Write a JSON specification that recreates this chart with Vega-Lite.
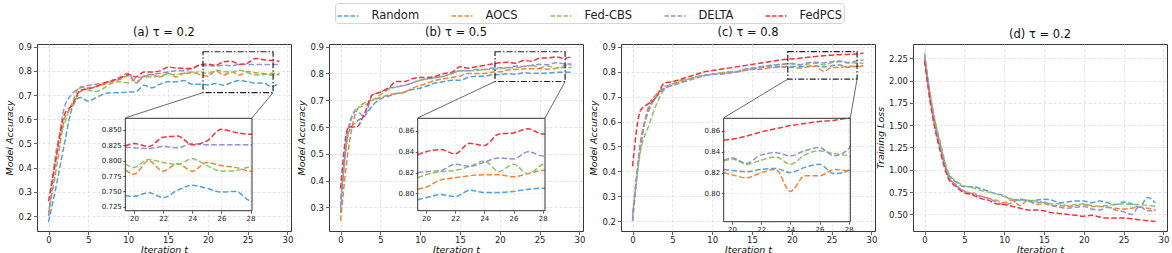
{
"$schema":"https://vega.github.io/schema/vega-lite/v6.json",
"padding":{"left":4,"top":2,"right":0,"bottom":0},
"background":"white",
"config":{"font":"DejaVu Sans","view":{"stroke":"#3a3a3a","strokeWidth":1},
"title":{"font":"DejaVu Sans","fontSize":11.5,"fontWeight":"normal","color":"#111","offset":4},
"axis":{"labelFont":"DejaVu Sans","labelFontSize":8.5,"labelColor":"#222","titleFont":"DejaVu Sans","titleFontSize":9.5,"titleFontStyle":"italic","titleFontWeight":"normal","titleColor":"#111","tickColor":"#333","tickSize":3.5,"tickWidth":0.8,"domain":false,"gridColor":"#dedede","gridDash":[3,2],"gridWidth":0.8,"labelFlush":false,"labelOverlap":false,"labelPadding":2,"titlePadding":3}},
"datasets":{
"a":[
{"t":0,"Random":0.175,"AOCS":0.21,"Fed-CBS":0.20,"DELTA":0.20,"FedPCS":0.26},
{"t":1,"Random":0.33,"AOCS":0.40,"Fed-CBS":0.48,"DELTA":0.45,"FedPCS":0.45},
{"t":2,"Random":0.50,"AOCS":0.60,"Fed-CBS":0.58,"DELTA":0.65,"FedPCS":0.62},
{"t":3,"Random":0.65,"AOCS":0.655,"Fed-CBS":0.67,"DELTA":0.705,"FedPCS":0.66},
{"t":4,"Random":0.69,"AOCS":0.715,"Fed-CBS":0.735,"DELTA":0.73,"FedPCS":0.72},
{"t":5,"Random":0.675,"AOCS":0.73,"Fed-CBS":0.72,"DELTA":0.74,"FedPCS":0.725},
{"t":6,"Random":0.69,"AOCS":0.735,"Fed-CBS":0.715,"DELTA":0.745,"FedPCS":0.735},
{"t":7,"Random":0.705,"AOCS":0.745,"Fed-CBS":0.73,"DELTA":0.75,"FedPCS":0.75},
{"t":8,"Random":0.71,"AOCS":0.755,"Fed-CBS":0.75,"DELTA":0.76,"FedPCS":0.76},
{"t":9,"Random":0.71,"AOCS":0.765,"Fed-CBS":0.755,"DELTA":0.775,"FedPCS":0.77},
{"t":10,"Random":0.712,"AOCS":0.78,"Fed-CBS":0.75,"DELTA":0.79,"FedPCS":0.785},
{"t":11,"Random":0.715,"AOCS":0.755,"Fed-CBS":0.77,"DELTA":0.75,"FedPCS":0.775},
{"t":12,"Random":0.74,"AOCS":0.775,"Fed-CBS":0.775,"DELTA":0.78,"FedPCS":0.795},
{"t":13,"Random":0.73,"AOCS":0.785,"Fed-CBS":0.775,"DELTA":0.785,"FedPCS":0.795},
{"t":14,"Random":0.745,"AOCS":0.775,"Fed-CBS":0.78,"DELTA":0.79,"FedPCS":0.80},
{"t":15,"Random":0.755,"AOCS":0.79,"Fed-CBS":0.785,"DELTA":0.795,"FedPCS":0.815},
{"t":16,"Random":0.755,"AOCS":0.775,"Fed-CBS":0.785,"DELTA":0.80,"FedPCS":0.812},
{"t":17,"Random":0.76,"AOCS":0.79,"Fed-CBS":0.79,"DELTA":0.80,"FedPCS":0.81},
{"t":18,"Random":0.745,"AOCS":0.795,"Fed-CBS":0.79,"DELTA":0.81,"FedPCS":0.81},
{"t":19,"Random":0.745,"AOCS":0.785,"Fed-CBS":0.797,"DELTA":0.822,"FedPCS":0.825},
{"t":20,"Random":0.742,"AOCS":0.778,"Fed-CBS":0.789,"DELTA":0.821,"FedPCS":0.828},
{"t":21,"Random":0.748,"AOCS":0.800,"Fed-CBS":0.802,"DELTA":0.820,"FedPCS":0.823},
{"t":22,"Random":0.740,"AOCS":0.783,"Fed-CBS":0.797,"DELTA":0.823,"FedPCS":0.838},
{"t":23,"Random":0.752,"AOCS":0.795,"Fed-CBS":0.794,"DELTA":0.821,"FedPCS":0.840},
{"t":24,"Random":0.760,"AOCS":0.783,"Fed-CBS":0.803,"DELTA":0.828,"FedPCS":0.826},
{"t":25,"Random":0.755,"AOCS":0.797,"Fed-CBS":0.792,"DELTA":0.826,"FedPCS":0.832},
{"t":26,"Random":0.749,"AOCS":0.792,"Fed-CBS":0.783,"DELTA":0.826,"FedPCS":0.851},
{"t":27,"Random":0.750,"AOCS":0.789,"Fed-CBS":0.784,"DELTA":0.826,"FedPCS":0.846},
{"t":28,"Random":0.735,"AOCS":0.783,"Fed-CBS":0.790,"DELTA":0.826,"FedPCS":0.843},
{"t":29,"Random":0.750,"AOCS":0.785,"Fed-CBS":0.790,"DELTA":0.826,"FedPCS":0.840}],
"a_in":[
{"t":19.4,"Random":0.743,"AOCS":0.785,"Fed-CBS":0.795,"DELTA":0.822,"FedPCS":0.824},
{"t":20,"Random":0.742,"AOCS":0.778,"Fed-CBS":0.789,"DELTA":0.821,"FedPCS":0.828},
{"t":21,"Random":0.748,"AOCS":0.800,"Fed-CBS":0.802,"DELTA":0.820,"FedPCS":0.823},
{"t":22,"Random":0.740,"AOCS":0.783,"Fed-CBS":0.797,"DELTA":0.823,"FedPCS":0.838},
{"t":23,"Random":0.752,"AOCS":0.795,"Fed-CBS":0.794,"DELTA":0.821,"FedPCS":0.840},
{"t":24,"Random":0.760,"AOCS":0.783,"Fed-CBS":0.803,"DELTA":0.828,"FedPCS":0.826},
{"t":25,"Random":0.755,"AOCS":0.797,"Fed-CBS":0.792,"DELTA":0.826,"FedPCS":0.832},
{"t":26,"Random":0.749,"AOCS":0.792,"Fed-CBS":0.783,"DELTA":0.826,"FedPCS":0.851},
{"t":27,"Random":0.750,"AOCS":0.789,"Fed-CBS":0.784,"DELTA":0.826,"FedPCS":0.846},
{"t":28,"Random":0.735,"AOCS":0.783,"Fed-CBS":0.790,"DELTA":0.826,"FedPCS":0.843},
{"t":28.1,"Random":0.735,"AOCS":0.783,"Fed-CBS":0.790,"DELTA":0.826,"FedPCS":0.843}],
"b":[
{"t":0,"Random":0.28,"AOCS":0.25,"Fed-CBS":0.33,"DELTA":0.30,"FedPCS":0.37},
{"t":1,"Random":0.58,"AOCS":0.52,"Fed-CBS":0.58,"DELTA":0.60,"FedPCS":0.60},
{"t":2,"Random":0.62,"AOCS":0.66,"Fed-CBS":0.67,"DELTA":0.66,"FedPCS":0.60},
{"t":3,"Random":0.64,"AOCS":0.69,"Fed-CBS":0.68,"DELTA":0.64,"FedPCS":0.65},
{"t":4,"Random":0.68,"AOCS":0.70,"Fed-CBS":0.70,"DELTA":0.72,"FedPCS":0.72},
{"t":5,"Random":0.705,"AOCS":0.71,"Fed-CBS":0.72,"DELTA":0.73,"FedPCS":0.73},
{"t":6,"Random":0.715,"AOCS":0.72,"Fed-CBS":0.74,"DELTA":0.745,"FedPCS":0.745},
{"t":7,"Random":0.725,"AOCS":0.725,"Fed-CBS":0.75,"DELTA":0.75,"FedPCS":0.77},
{"t":8,"Random":0.73,"AOCS":0.73,"Fed-CBS":0.755,"DELTA":0.755,"FedPCS":0.77},
{"t":9,"Random":0.74,"AOCS":0.745,"Fed-CBS":0.765,"DELTA":0.765,"FedPCS":0.78},
{"t":10,"Random":0.745,"AOCS":0.755,"Fed-CBS":0.775,"DELTA":0.775,"FedPCS":0.785},
{"t":11,"Random":0.755,"AOCS":0.765,"Fed-CBS":0.78,"DELTA":0.78,"FedPCS":0.785},
{"t":12,"Random":0.765,"AOCS":0.775,"Fed-CBS":0.785,"DELTA":0.785,"FedPCS":0.79},
{"t":13,"Random":0.77,"AOCS":0.78,"Fed-CBS":0.79,"DELTA":0.79,"FedPCS":0.80},
{"t":14,"Random":0.775,"AOCS":0.785,"Fed-CBS":0.80,"DELTA":0.80,"FedPCS":0.805},
{"t":15,"Random":0.775,"AOCS":0.79,"Fed-CBS":0.81,"DELTA":0.81,"FedPCS":0.825},
{"t":16,"Random":0.785,"AOCS":0.80,"Fed-CBS":0.81,"DELTA":0.81,"FedPCS":0.82},
{"t":17,"Random":0.79,"AOCS":0.80,"Fed-CBS":0.81,"DELTA":0.815,"FedPCS":0.825},
{"t":18,"Random":0.79,"AOCS":0.80,"Fed-CBS":0.815,"DELTA":0.815,"FedPCS":0.83},
{"t":19,"Random":0.795,"AOCS":0.805,"Fed-CBS":0.815,"DELTA":0.82,"FedPCS":0.835},
{"t":20,"Random":0.796,"AOCS":0.806,"Fed-CBS":0.818,"DELTA":0.821,"FedPCS":0.840},
{"t":21,"Random":0.799,"AOCS":0.813,"Fed-CBS":0.821,"DELTA":0.822,"FedPCS":0.842},
{"t":22,"Random":0.797,"AOCS":0.815,"Fed-CBS":0.822,"DELTA":0.828,"FedPCS":0.838},
{"t":23,"Random":0.803,"AOCS":0.817,"Fed-CBS":0.826,"DELTA":0.826,"FedPCS":0.848},
{"t":24,"Random":0.801,"AOCS":0.818,"Fed-CBS":0.831,"DELTA":0.830,"FedPCS":0.846},
{"t":25,"Random":0.801,"AOCS":0.818,"Fed-CBS":0.821,"DELTA":0.834,"FedPCS":0.857},
{"t":26,"Random":0.802,"AOCS":0.816,"Fed-CBS":0.828,"DELTA":0.833,"FedPCS":0.858},
{"t":27,"Random":0.804,"AOCS":0.819,"Fed-CBS":0.819,"DELTA":0.840,"FedPCS":0.862},
{"t":28,"Random":0.805,"AOCS":0.822,"Fed-CBS":0.828,"DELTA":0.836,"FedPCS":0.857},
{"t":29,"Random":0.805,"AOCS":0.822,"Fed-CBS":0.832,"DELTA":0.835,"FedPCS":0.862}],
"b_in":[
{"t":19.43,"Random":0.794,"AOCS":0.804,"Fed-CBS":0.815,"DELTA":0.820,"FedPCS":0.837},
{"t":20,"Random":0.796,"AOCS":0.806,"Fed-CBS":0.818,"DELTA":0.821,"FedPCS":0.840},
{"t":21,"Random":0.799,"AOCS":0.813,"Fed-CBS":0.821,"DELTA":0.822,"FedPCS":0.842},
{"t":22,"Random":0.797,"AOCS":0.815,"Fed-CBS":0.822,"DELTA":0.828,"FedPCS":0.838},
{"t":23,"Random":0.803,"AOCS":0.817,"Fed-CBS":0.826,"DELTA":0.826,"FedPCS":0.848},
{"t":24,"Random":0.801,"AOCS":0.818,"Fed-CBS":0.831,"DELTA":0.830,"FedPCS":0.846},
{"t":25,"Random":0.801,"AOCS":0.818,"Fed-CBS":0.821,"DELTA":0.834,"FedPCS":0.857},
{"t":26,"Random":0.802,"AOCS":0.816,"Fed-CBS":0.828,"DELTA":0.833,"FedPCS":0.858},
{"t":27,"Random":0.804,"AOCS":0.819,"Fed-CBS":0.819,"DELTA":0.840,"FedPCS":0.862},
{"t":28,"Random":0.805,"AOCS":0.822,"Fed-CBS":0.828,"DELTA":0.836,"FedPCS":0.857},
{"t":28.16,"Random":0.805,"AOCS":0.822,"Fed-CBS":0.829,"DELTA":0.836,"FedPCS":0.857}],
"c":[
{"t":0,"Random":0.20,"AOCS":0.23,"Fed-CBS":0.22,"DELTA":0.20,"FedPCS":0.42},
{"t":1,"Random":0.50,"AOCS":0.50,"Fed-CBS":0.48,"DELTA":0.52,"FedPCS":0.645},
{"t":2,"Random":0.65,"AOCS":0.66,"Fed-CBS":0.58,"DELTA":0.64,"FedPCS":0.672},
{"t":3,"Random":0.70,"AOCS":0.71,"Fed-CBS":0.67,"DELTA":0.70,"FedPCS":0.70},
{"t":4,"Random":0.73,"AOCS":0.74,"Fed-CBS":0.73,"DELTA":0.735,"FedPCS":0.755},
{"t":5,"Random":0.75,"AOCS":0.75,"Fed-CBS":0.75,"DELTA":0.745,"FedPCS":0.76},
{"t":6,"Random":0.76,"AOCS":0.765,"Fed-CBS":0.76,"DELTA":0.755,"FedPCS":0.77},
{"t":7,"Random":0.77,"AOCS":0.77,"Fed-CBS":0.77,"DELTA":0.765,"FedPCS":0.78},
{"t":8,"Random":0.78,"AOCS":0.78,"Fed-CBS":0.78,"DELTA":0.775,"FedPCS":0.79},
{"t":9,"Random":0.785,"AOCS":0.785,"Fed-CBS":0.785,"DELTA":0.785,"FedPCS":0.80},
{"t":10,"Random":0.79,"AOCS":0.79,"Fed-CBS":0.79,"DELTA":0.79,"FedPCS":0.805},
{"t":11,"Random":0.79,"AOCS":0.795,"Fed-CBS":0.795,"DELTA":0.79,"FedPCS":0.81},
{"t":12,"Random":0.80,"AOCS":0.795,"Fed-CBS":0.80,"DELTA":0.795,"FedPCS":0.815},
{"t":13,"Random":0.80,"AOCS":0.80,"Fed-CBS":0.80,"DELTA":0.80,"FedPCS":0.82},
{"t":14,"Random":0.805,"AOCS":0.805,"Fed-CBS":0.81,"DELTA":0.81,"FedPCS":0.825},
{"t":15,"Random":0.81,"AOCS":0.81,"Fed-CBS":0.815,"DELTA":0.815,"FedPCS":0.83},
{"t":16,"Random":0.815,"AOCS":0.81,"Fed-CBS":0.82,"DELTA":0.82,"FedPCS":0.835},
{"t":17,"Random":0.82,"AOCS":0.815,"Fed-CBS":0.825,"DELTA":0.825,"FedPCS":0.84},
{"t":18,"Random":0.82,"AOCS":0.818,"Fed-CBS":0.828,"DELTA":0.828,"FedPCS":0.845},
{"t":19,"Random":0.822,"AOCS":0.82,"Fed-CBS":0.831,"DELTA":0.831,"FedPCS":0.85},
{"t":20,"Random":0.822,"AOCS":0.818,"Fed-CBS":0.833,"DELTA":0.834,"FedPCS":0.852},
{"t":21,"Random":0.821,"AOCS":0.815,"Fed-CBS":0.828,"DELTA":0.829,"FedPCS":0.855},
{"t":22,"Random":0.823,"AOCS":0.820,"Fed-CBS":0.832,"DELTA":0.837,"FedPCS":0.859},
{"t":23,"Random":0.824,"AOCS":0.823,"Fed-CBS":0.835,"DELTA":0.839,"FedPCS":0.862},
{"t":24,"Random":0.820,"AOCS":0.802,"Fed-CBS":0.828,"DELTA":0.836,"FedPCS":0.865},
{"t":25,"Random":0.825,"AOCS":0.817,"Fed-CBS":0.837,"DELTA":0.841,"FedPCS":0.867},
{"t":26,"Random":0.828,"AOCS":0.817,"Fed-CBS":0.841,"DELTA":0.844,"FedPCS":0.869},
{"t":27,"Random":0.819,"AOCS":0.823,"Fed-CBS":0.838,"DELTA":0.836,"FedPCS":0.870},
{"t":28,"Random":0.822,"AOCS":0.822,"Fed-CBS":0.836,"DELTA":0.843,"FedPCS":0.872},
{"t":29,"Random":0.825,"AOCS":0.822,"Fed-CBS":0.835,"DELTA":0.848,"FedPCS":0.875}],
"c_in":[
{"t":19.43,"Random":0.823,"AOCS":0.820,"Fed-CBS":0.831,"DELTA":0.832,"FedPCS":0.851},
{"t":20,"Random":0.822,"AOCS":0.818,"Fed-CBS":0.833,"DELTA":0.834,"FedPCS":0.852},
{"t":21,"Random":0.821,"AOCS":0.815,"Fed-CBS":0.828,"DELTA":0.829,"FedPCS":0.855},
{"t":22,"Random":0.823,"AOCS":0.820,"Fed-CBS":0.832,"DELTA":0.837,"FedPCS":0.859},
{"t":23,"Random":0.824,"AOCS":0.823,"Fed-CBS":0.835,"DELTA":0.839,"FedPCS":0.862},
{"t":24,"Random":0.820,"AOCS":0.802,"Fed-CBS":0.828,"DELTA":0.836,"FedPCS":0.865},
{"t":25,"Random":0.825,"AOCS":0.817,"Fed-CBS":0.837,"DELTA":0.841,"FedPCS":0.867},
{"t":26,"Random":0.828,"AOCS":0.817,"Fed-CBS":0.841,"DELTA":0.844,"FedPCS":0.869},
{"t":27,"Random":0.819,"AOCS":0.823,"Fed-CBS":0.838,"DELTA":0.836,"FedPCS":0.870},
{"t":28,"Random":0.822,"AOCS":0.822,"Fed-CBS":0.836,"DELTA":0.843,"FedPCS":0.872},
{"t":28.11,"Random":0.823,"AOCS":0.822,"Fed-CBS":0.835,"DELTA":0.846,"FedPCS":0.872}],
"d":[
{"t":0,"Random":2.25,"AOCS":2.24,"Fed-CBS":2.31,"DELTA":2.28,"FedPCS":2.22},
{"t":1,"Random":1.68,"AOCS":1.62,"Fed-CBS":1.70,"DELTA":1.66,"FedPCS":1.60},
{"t":2,"Random":1.27,"AOCS":1.22,"Fed-CBS":1.30,"DELTA":1.25,"FedPCS":1.20},
{"t":3,"Random":0.95,"AOCS":0.92,"Fed-CBS":0.97,"DELTA":0.93,"FedPCS":0.90},
{"t":4,"Random":0.86,"AOCS":0.83,"Fed-CBS":0.87,"DELTA":0.82,"FedPCS":0.81},
{"t":5,"Random":0.81,"AOCS":0.75,"Fed-CBS":0.82,"DELTA":0.76,"FedPCS":0.74},
{"t":6,"Random":0.81,"AOCS":0.74,"Fed-CBS":0.80,"DELTA":0.73,"FedPCS":0.72},
{"t":7,"Random":0.79,"AOCS":0.71,"Fed-CBS":0.77,"DELTA":0.70,"FedPCS":0.68},
{"t":8,"Random":0.76,"AOCS":0.68,"Fed-CBS":0.75,"DELTA":0.68,"FedPCS":0.66},
{"t":9,"Random":0.73,"AOCS":0.66,"Fed-CBS":0.73,"DELTA":0.64,"FedPCS":0.62},
{"t":10,"Random":0.71,"AOCS":0.63,"Fed-CBS":0.70,"DELTA":0.61,"FedPCS":0.61},
{"t":11,"Random":0.66,"AOCS":0.66,"Fed-CBS":0.67,"DELTA":0.63,"FedPCS":0.59},
{"t":12,"Random":0.67,"AOCS":0.60,"Fed-CBS":0.66,"DELTA":0.67,"FedPCS":0.57},
{"t":13,"Random":0.65,"AOCS":0.66,"Fed-CBS":0.66,"DELTA":0.65,"FedPCS":0.55},
{"t":14,"Random":0.66,"AOCS":0.61,"Fed-CBS":0.65,"DELTA":0.63,"FedPCS":0.55},
{"t":15,"Random":0.67,"AOCS":0.62,"Fed-CBS":0.63,"DELTA":0.64,"FedPCS":0.54},
{"t":16,"Random":0.66,"AOCS":0.60,"Fed-CBS":0.62,"DELTA":0.60,"FedPCS":0.52},
{"t":17,"Random":0.63,"AOCS":0.60,"Fed-CBS":0.62,"DELTA":0.58,"FedPCS":0.51},
{"t":18,"Random":0.64,"AOCS":0.59,"Fed-CBS":0.60,"DELTA":0.57,"FedPCS":0.50},
{"t":19,"Random":0.65,"AOCS":0.60,"Fed-CBS":0.61,"DELTA":0.58,"FedPCS":0.49},
{"t":20,"Random":0.65,"AOCS":0.61,"Fed-CBS":0.62,"DELTA":0.59,"FedPCS":0.48},
{"t":21,"Random":0.63,"AOCS":0.59,"Fed-CBS":0.60,"DELTA":0.56,"FedPCS":0.49},
{"t":22,"Random":0.65,"AOCS":0.59,"Fed-CBS":0.59,"DELTA":0.55,"FedPCS":0.47},
{"t":23,"Random":0.63,"AOCS":0.58,"Fed-CBS":0.60,"DELTA":0.58,"FedPCS":0.46},
{"t":24,"Random":0.61,"AOCS":0.57,"Fed-CBS":0.61,"DELTA":0.55,"FedPCS":0.46},
{"t":25,"Random":0.64,"AOCS":0.56,"Fed-CBS":0.62,"DELTA":0.53,"FedPCS":0.46},
{"t":26,"Random":0.62,"AOCS":0.57,"Fed-CBS":0.61,"DELTA":0.50,"FedPCS":0.45},
{"t":27,"Random":0.58,"AOCS":0.58,"Fed-CBS":0.61,"DELTA":0.59,"FedPCS":0.44},
{"t":28,"Random":0.69,"AOCS":0.57,"Fed-CBS":0.60,"DELTA":0.54,"FedPCS":0.43},
{"t":29,"Random":0.63,"AOCS":0.55,"Fed-CBS":0.59,"DELTA":0.54,"FedPCS":0.42}]
},
"hconcat":[
{"width":254,"height":187,"title":"(a) τ = 0.2",
"layer":[
{"layer":[
{"data":{"name":"a"},"transform":[{"fold":["Random","AOCS","Fed-CBS","DELTA","FedPCS"],"as":["s","v"]}],
"mark":{"type":"line","strokeDash":[5.5,2.4],"strokeWidth":1.5,"interpolate":"monotone"},
"encoding":{
"x":{"field":"t","type":"quantitative","scale":{"domain":[-1.45,30.45],"nice":false,"zero":false},"axis":{"values":[0,5,10,15,20,25,30],"format":"d","title":"Iteration t","labelPadding":1,"titleBaseline":"alphabetic","titleY":21.5}},
"y":{"field":"v","type":"quantitative","scale":{"domain":[0.138,0.911],"nice":false,"zero":false},"axis":{"values":[0.2,0.3,0.4,0.5,0.6,0.7,0.8,0.9],"format":".1f","title":"Model Accuracy"}},
"color":{"field":"s","type":"nominal","scale":{"domain":["Random","AOCS","Fed-CBS","DELTA","FedPCS"],"range":["#559fd9","#f58535","#8dc466","#9392d6","#f5333f"]},
"legend":{"title":null,"orient":"none","legendX":298,"legendY":-41,"direction":"horizontal","symbolType":"stroke","symbolSize":441,"symbolStrokeWidth":1.5,"symbolDash":[4.5,2],"labelFont":"DejaVu Sans","labelFontSize":11.5,"labelColor":"#222","strokeColor":"#d5d5d5","cornerRadius":3,"padding":1.5,"fillColor":"white","columnPadding":29,"labelOffset":12}}}},
{"data":{"values":[{}]},"mark":{"type":"rect","fill":"white","fillOpacity":0,"stroke":"#222","strokeWidth":1.2,"strokeDash":[6,2,1.5,2]},
"encoding":{"x":{"datum":19.4,"axis":{"values":[0,5,10,15,20,25,30],"format":"d","title":"Iteration t","labelPadding":1,"titleBaseline":"alphabetic","titleY":21.5}},"x2":{"datum":28.2},"y":{"datum":0.71,"axis":{"values":[0.2,0.3,0.4,0.5,0.6,0.7,0.8,0.9],"format":".1f","title":"Model Accuracy"}},"y2":{"datum":0.879}}},
{"data":{"values":[{}]},"mark":{"type":"rule","color":"#444","strokeWidth":0.8},"encoding":{"x":{"datum":19.4,"axis":{"values":[0,5,10,15,20,25,30],"format":"d","title":"Iteration t","labelPadding":1,"titleBaseline":"alphabetic","titleY":21.5}},"x2":{"datum":9.64},"y":{"datum":0.71,"axis":{"values":[0.2,0.3,0.4,0.5,0.6,0.7,0.8,0.9],"format":".1f","title":"Model Accuracy"}},"y2":{"datum":0.6055}}},
{"data":{"values":[{}]},"mark":{"type":"rule","color":"#444","strokeWidth":0.8},"encoding":{"x":{"datum":28.2,"axis":{"values":[0,5,10,15,20,25,30],"format":"d","title":"Iteration t","labelPadding":1,"titleBaseline":"alphabetic","titleY":21.5}},"x2":{"datum":25.55},"y":{"datum":0.71,"axis":{"values":[0.2,0.3,0.4,0.5,0.6,0.7,0.8,0.9],"format":".1f","title":"Model Accuracy"}},"y2":{"datum":0.6055}}}
]},
{"layer":[
{"data":{"values":[{}]},"mark":{"type":"rect","fill":"white","strokeWidth":0},
"encoding":{
"x":{"datum":19.4,"type":"quantitative","scale":{"domain":[19.4,28.1],"range":[88.3,215],"nice":false,"zero":false},"axis":{"orient":"bottom","offset":-20.3,"values":[20,22,24,26,28],"format":"d","title":null,"grid":false,"labelFontSize":7,"tickSize":2.5,"labelPadding":1.5,"zindex":1}},
"x2":{"datum":28.1},
"y":{"datum":0.7186,"type":"quantitative","scale":{"domain":[0.7186,0.869],"range":[166.7,74.3],"nice":false,"zero":false},"axis":{"orient":"left","offset":-88.3,"values":[0.725,0.75,0.775,0.8,0.825,0.85],"format":".3f","title":null,"grid":false,"labelFontSize":7,"tickSize":2.5,"labelPadding":1.5,"zindex":1}},
"y2":{"datum":0.869}}},
{"data":{"values":[{"g":20},{"g":22},{"g":24},{"g":26},{"g":28}]},"mark":{"type":"rule","color":"#dcdcdc","strokeDash":[2,2],"strokeWidth":0.7},"encoding":{
"x":{"field":"g","type":"quantitative","axis":{"orient":"bottom","offset":-20.3,"values":[20,22,24,26,28],"format":"d","title":null,"grid":false,"labelFontSize":7,"tickSize":2.5,"labelPadding":1.5,"zindex":1}},
"y":{"datum":0.7186,"axis":{"orient":"left","offset":-88.3,"values":[0.725,0.75,0.775,0.8,0.825,0.85],"format":".3f","title":null,"grid":false,"labelFontSize":7,"tickSize":2.5,"labelPadding":1.5,"zindex":1}},"y2":{"datum":0.869}}},
{"data":{"values":[{"h":0.725},{"h":0.75},{"h":0.775},{"h":0.8},{"h":0.825},{"h":0.85}]},"mark":{"type":"rule","color":"#dcdcdc","strokeDash":[2,2],"strokeWidth":0.7},"encoding":{
"y":{"field":"h","type":"quantitative","axis":{"orient":"left","offset":-88.3,"values":[0.725,0.75,0.775,0.8,0.825,0.85],"format":".3f","title":null,"grid":false,"labelFontSize":7,"tickSize":2.5,"labelPadding":1.5,"zindex":1}},
"x":{"datum":19.4,"axis":{"orient":"bottom","offset":-20.3,"values":[20,22,24,26,28],"format":"d","title":null,"grid":false,"labelFontSize":7,"tickSize":2.5,"labelPadding":1.5,"zindex":1}},"x2":{"datum":28.1}}},
{"data":{"name":"a_in"},"transform":[{"fold":["Random","AOCS","Fed-CBS","DELTA","FedPCS"],"as":["s","v"]}],
"mark":{"type":"line","strokeDash":[5.5,2.4],"strokeWidth":1.5,"interpolate":"monotone"},
"encoding":{
"x":{"field":"t","type":"quantitative","axis":{"orient":"bottom","offset":-20.3,"values":[20,22,24,26,28],"format":"d","title":null,"grid":false,"labelFontSize":7,"tickSize":2.5,"labelPadding":1.5,"zindex":1}},
"y":{"field":"v","type":"quantitative","axis":{"orient":"left","offset":-88.3,"values":[0.725,0.75,0.775,0.8,0.825,0.85],"format":".3f","title":null,"grid":false,"labelFontSize":7,"tickSize":2.5,"labelPadding":1.5,"zindex":1}},
"color":{"field":"s","type":"nominal","scale":{"domain":["Random","AOCS","Fed-CBS","DELTA","FedPCS"],"range":["#559fd9","#f58535","#8dc466","#9392d6","#f5333f"]}}}},
{"data":{"values":[{}]},"mark":{"type":"rect","fill":"white","fillOpacity":0,"stroke":"#333","strokeWidth":1},
"encoding":{
"x":{"datum":19.4,"axis":{"orient":"bottom","offset":-20.3,"values":[20,22,24,26,28],"format":"d","title":null,"grid":false,"labelFontSize":7,"tickSize":2.5,"labelPadding":1.5,"zindex":1}},"x2":{"datum":28.1},
"y":{"datum":0.7186,"axis":{"orient":"left","offset":-88.3,"values":[0.725,0.75,0.775,0.8,0.825,0.85],"format":".3f","title":null,"grid":false,"labelFontSize":7,"tickSize":2.5,"labelPadding":1.5,"zindex":1}},"y2":{"datum":0.869}}}
]}
],
"resolve":{"scale":{"x":"independent","y":"independent"}}},

{"width":254,"height":187,"title":"(b) τ = 0.5",
"layer":[
{"layer":[
{"data":{"name":"b"},"transform":[{"fold":["Random","AOCS","Fed-CBS","DELTA","FedPCS"],"as":["s","v"]}],
"mark":{"type":"line","strokeDash":[5.5,2.4],"strokeWidth":1.5,"interpolate":"monotone"},
"encoding":{
"x":{"field":"t","type":"quantitative","scale":{"domain":[-1.45,30.45],"nice":false,"zero":false},"axis":{"values":[0,5,10,15,20,25,30],"format":"d","title":"Iteration t","labelPadding":1,"titleBaseline":"alphabetic","titleY":21.5}},
"y":{"field":"v","type":"quantitative","scale":{"domain":[0.212,0.91],"nice":false,"zero":false},"axis":{"values":[0.3,0.4,0.5,0.6,0.7,0.8,0.9],"format":".1f","title":"Model Accuracy"}},
"color":{"field":"s","type":"nominal","scale":{"domain":["Random","AOCS","Fed-CBS","DELTA","FedPCS"],"range":["#559fd9","#f58535","#8dc466","#9392d6","#f5333f"]}}}},
{"data":{"values":[{}]},"mark":{"type":"rect","fill":"white","fillOpacity":0,"stroke":"#222","strokeWidth":1.2,"strokeDash":[6,2,1.5,2]},
"encoding":{"x":{"datum":19.4,"axis":{"values":[0,5,10,15,20,25,30],"format":"d","title":"Iteration t","labelPadding":1,"titleBaseline":"alphabetic","titleY":21.5}},"x2":{"datum":28.2},"y":{"datum":0.770,"axis":{"values":[0.3,0.4,0.5,0.6,0.7,0.8,0.9],"format":".1f","title":"Model Accuracy"}},"y2":{"datum":0.881}}},
{"data":{"values":[{}]},"mark":{"type":"rule","color":"#444","strokeWidth":0.8},"encoding":{"x":{"datum":19.4,"axis":{"values":[0,5,10,15,20,25,30],"format":"d","title":"Iteration t","labelPadding":1,"titleBaseline":"alphabetic","titleY":21.5}},"x2":{"datum":9.69},"y":{"datum":0.770,"axis":{"values":[0.3,0.4,0.5,0.6,0.7,0.8,0.9],"format":".1f","title":"Model Accuracy"}},"y2":{"datum":0.634}}},
{"data":{"values":[{}]},"mark":{"type":"rule","color":"#444","strokeWidth":0.8},"encoding":{"x":{"datum":28.2,"axis":{"values":[0,5,10,15,20,25,30],"format":"d","title":"Iteration t","labelPadding":1,"titleBaseline":"alphabetic","titleY":21.5}},"x2":{"datum":25.68},"y":{"datum":0.770,"axis":{"values":[0.3,0.4,0.5,0.6,0.7,0.8,0.9],"format":".1f","title":"Model Accuracy"}},"y2":{"datum":0.634}}}
]},
{"layer":[
{"data":{"values":[{}]},"mark":{"type":"rect","fill":"white","strokeWidth":0},
"encoding":{
"x":{"datum":19.43,"type":"quantitative","scale":{"domain":[19.43,28.16],"range":[88.7,216],"nice":false,"zero":false},"axis":{"orient":"bottom","offset":-20.3,"values":[20,22,24,26,28],"format":"d","title":null,"grid":false,"labelFontSize":7,"tickSize":2.5,"labelPadding":1.5,"zindex":1}},
"x2":{"datum":28.16},
"y":{"datum":0.7835,"type":"quantitative","scale":{"domain":[0.7835,0.872],"range":[166.7,74.3],"nice":false,"zero":false},"axis":{"orient":"left","offset":-88.7,"values":[0.80,0.82,0.84,0.86],"format":".2f","title":null,"grid":false,"labelFontSize":7,"tickSize":2.5,"labelPadding":1.5,"zindex":1}},
"y2":{"datum":0.872}}},
{"data":{"values":[{"g":20},{"g":22},{"g":24},{"g":26},{"g":28}]},"mark":{"type":"rule","color":"#dcdcdc","strokeDash":[2,2],"strokeWidth":0.7},"encoding":{
"x":{"field":"g","type":"quantitative","axis":{"orient":"bottom","offset":-20.3,"values":[20,22,24,26,28],"format":"d","title":null,"grid":false,"labelFontSize":7,"tickSize":2.5,"labelPadding":1.5,"zindex":1}},
"y":{"datum":0.7835,"axis":{"orient":"left","offset":-88.7,"values":[0.80,0.82,0.84,0.86],"format":".2f","title":null,"grid":false,"labelFontSize":7,"tickSize":2.5,"labelPadding":1.5,"zindex":1}},"y2":{"datum":0.872}}},
{"data":{"values":[{"h":0.80},{"h":0.82},{"h":0.84},{"h":0.86}]},"mark":{"type":"rule","color":"#dcdcdc","strokeDash":[2,2],"strokeWidth":0.7},"encoding":{
"y":{"field":"h","type":"quantitative","axis":{"orient":"left","offset":-88.7,"values":[0.80,0.82,0.84,0.86],"format":".2f","title":null,"grid":false,"labelFontSize":7,"tickSize":2.5,"labelPadding":1.5,"zindex":1}},
"x":{"datum":19.43,"axis":{"orient":"bottom","offset":-20.3,"values":[20,22,24,26,28],"format":"d","title":null,"grid":false,"labelFontSize":7,"tickSize":2.5,"labelPadding":1.5,"zindex":1}},"x2":{"datum":28.16}}},
{"data":{"name":"b_in"},"transform":[{"fold":["Random","AOCS","Fed-CBS","DELTA","FedPCS"],"as":["s","v"]}],
"mark":{"type":"line","strokeDash":[5.5,2.4],"strokeWidth":1.5,"interpolate":"monotone"},
"encoding":{
"x":{"field":"t","type":"quantitative","axis":{"orient":"bottom","offset":-20.3,"values":[20,22,24,26,28],"format":"d","title":null,"grid":false,"labelFontSize":7,"tickSize":2.5,"labelPadding":1.5,"zindex":1}},
"y":{"field":"v","type":"quantitative","axis":{"orient":"left","offset":-88.7,"values":[0.80,0.82,0.84,0.86],"format":".2f","title":null,"grid":false,"labelFontSize":7,"tickSize":2.5,"labelPadding":1.5,"zindex":1}},
"color":{"field":"s","type":"nominal","scale":{"domain":["Random","AOCS","Fed-CBS","DELTA","FedPCS"],"range":["#559fd9","#f58535","#8dc466","#9392d6","#f5333f"]}}}},
{"data":{"values":[{}]},"mark":{"type":"rect","fill":"white","fillOpacity":0,"stroke":"#333","strokeWidth":1},
"encoding":{
"x":{"datum":19.43,"axis":{"orient":"bottom","offset":-20.3,"values":[20,22,24,26,28],"format":"d","title":null,"grid":false,"labelFontSize":7,"tickSize":2.5,"labelPadding":1.5,"zindex":1}},"x2":{"datum":28.16},
"y":{"datum":0.7835,"axis":{"orient":"left","offset":-88.7,"values":[0.80,0.82,0.84,0.86],"format":".2f","title":null,"grid":false,"labelFontSize":7,"tickSize":2.5,"labelPadding":1.5,"zindex":1}},"y2":{"datum":0.872}}}
]}
],
"resolve":{"scale":{"x":"independent","y":"independent"}}},

{"width":254,"height":187,"title":"(c) τ = 0.8",
"layer":[
{"layer":[
{"data":{"name":"c"},"transform":[{"fold":["Random","AOCS","Fed-CBS","DELTA","FedPCS"],"as":["s","v"]}],
"mark":{"type":"line","strokeDash":[5.5,2.4],"strokeWidth":1.5,"interpolate":"monotone"},
"encoding":{
"x":{"field":"t","type":"quantitative","scale":{"domain":[-1.45,30.45],"nice":false,"zero":false},"axis":{"values":[0,5,10,15,20,25,30],"format":"d","title":"Iteration t","labelPadding":1,"titleBaseline":"alphabetic","titleY":21.5}},
"y":{"field":"v","type":"quantitative","scale":{"domain":[0.16,0.912],"nice":false,"zero":false},"axis":{"values":[0.2,0.3,0.4,0.5,0.6,0.7,0.8,0.9],"format":".1f","title":"Model Accuracy"}},
"color":{"field":"s","type":"nominal","scale":{"domain":["Random","AOCS","Fed-CBS","DELTA","FedPCS"],"range":["#559fd9","#f58535","#8dc466","#9392d6","#f5333f"]}}}},
{"data":{"values":[{}]},"mark":{"type":"rect","fill":"white","fillOpacity":0,"stroke":"#222","strokeWidth":1.2,"strokeDash":[6,2,1.5,2]},
"encoding":{"x":{"datum":19.5,"axis":{"values":[0,5,10,15,20,25,30],"format":"d","title":"Iteration t","labelPadding":1,"titleBaseline":"alphabetic","titleY":21.5}},"x2":{"datum":28.2},"y":{"datum":0.771,"axis":{"values":[0.2,0.3,0.4,0.5,0.6,0.7,0.8,0.9],"format":".1f","title":"Model Accuracy"}},"y2":{"datum":0.881}}},
{"data":{"values":[{}]},"mark":{"type":"rule","color":"#444","strokeWidth":0.8},"encoding":{"x":{"datum":19.5,"axis":{"values":[0,5,10,15,20,25,30],"format":"d","title":"Iteration t","labelPadding":1,"titleBaseline":"alphabetic","titleY":21.5}},"x2":{"datum":11.45},"y":{"datum":0.771,"axis":{"values":[0.2,0.3,0.4,0.5,0.6,0.7,0.8,0.9],"format":".1f","title":"Model Accuracy"}},"y2":{"datum":0.615}}},
{"data":{"values":[{}]},"mark":{"type":"rule","color":"#444","strokeWidth":0.8},"encoding":{"x":{"datum":28.2,"axis":{"values":[0,5,10,15,20,25,30],"format":"d","title":"Iteration t","labelPadding":1,"titleBaseline":"alphabetic","titleY":21.5}},"x2":{"datum":27.35},"y":{"datum":0.771,"axis":{"values":[0.2,0.3,0.4,0.5,0.6,0.7,0.8,0.9],"format":".1f","title":"Model Accuracy"}},"y2":{"datum":0.615}}}
]},
{"layer":[
{"data":{"values":[{}]},"mark":{"type":"rect","fill":"white","strokeWidth":0},
"encoding":{
"x":{"datum":19.43,"type":"quantitative","scale":{"domain":[19.43,28.11],"range":[102.7,229.3],"nice":false,"zero":false},"axis":{"orient":"bottom","offset":-9.3,"values":[20,22,24,26,28],"format":"d","title":null,"grid":false,"labelFontSize":7,"tickSize":2.5,"labelPadding":1.5,"zindex":1}},
"x2":{"datum":28.11},
"y":{"datum":0.773,"type":"quantitative","scale":{"domain":[0.773,0.872],"range":[177.7,74.3],"nice":false,"zero":false},"axis":{"orient":"left","offset":-102.7,"values":[0.80,0.82,0.84,0.86],"format":".2f","title":null,"grid":false,"labelFontSize":7,"tickSize":2.5,"labelPadding":1.5,"zindex":1}},
"y2":{"datum":0.872}}},
{"data":{"values":[{"g":20},{"g":22},{"g":24},{"g":26},{"g":28}]},"mark":{"type":"rule","color":"#dcdcdc","strokeDash":[2,2],"strokeWidth":0.7},"encoding":{
"x":{"field":"g","type":"quantitative","axis":{"orient":"bottom","offset":-9.3,"values":[20,22,24,26,28],"format":"d","title":null,"grid":false,"labelFontSize":7,"tickSize":2.5,"labelPadding":1.5,"zindex":1}},
"y":{"datum":0.773,"axis":{"orient":"left","offset":-102.7,"values":[0.80,0.82,0.84,0.86],"format":".2f","title":null,"grid":false,"labelFontSize":7,"tickSize":2.5,"labelPadding":1.5,"zindex":1}},"y2":{"datum":0.872}}},
{"data":{"values":[{"h":0.80},{"h":0.82},{"h":0.84},{"h":0.86}]},"mark":{"type":"rule","color":"#dcdcdc","strokeDash":[2,2],"strokeWidth":0.7},"encoding":{
"y":{"field":"h","type":"quantitative","axis":{"orient":"left","offset":-102.7,"values":[0.80,0.82,0.84,0.86],"format":".2f","title":null,"grid":false,"labelFontSize":7,"tickSize":2.5,"labelPadding":1.5,"zindex":1}},
"x":{"datum":19.43,"axis":{"orient":"bottom","offset":-9.3,"values":[20,22,24,26,28],"format":"d","title":null,"grid":false,"labelFontSize":7,"tickSize":2.5,"labelPadding":1.5,"zindex":1}},"x2":{"datum":28.11}}},
{"data":{"name":"c_in"},"transform":[{"fold":["Random","AOCS","Fed-CBS","DELTA","FedPCS"],"as":["s","v"]}],
"mark":{"type":"line","strokeDash":[5.5,2.4],"strokeWidth":1.5,"interpolate":"monotone"},
"encoding":{
"x":{"field":"t","type":"quantitative","axis":{"orient":"bottom","offset":-9.3,"values":[20,22,24,26,28],"format":"d","title":null,"grid":false,"labelFontSize":7,"tickSize":2.5,"labelPadding":1.5,"zindex":1}},
"y":{"field":"v","type":"quantitative","axis":{"orient":"left","offset":-102.7,"values":[0.80,0.82,0.84,0.86],"format":".2f","title":null,"grid":false,"labelFontSize":7,"tickSize":2.5,"labelPadding":1.5,"zindex":1}},
"color":{"field":"s","type":"nominal","scale":{"domain":["Random","AOCS","Fed-CBS","DELTA","FedPCS"],"range":["#559fd9","#f58535","#8dc466","#9392d6","#f5333f"]}}}},
{"data":{"values":[{}]},"mark":{"type":"rect","fill":"white","fillOpacity":0,"stroke":"#333","strokeWidth":1},
"encoding":{
"x":{"datum":19.43,"axis":{"orient":"bottom","offset":-9.3,"values":[20,22,24,26,28],"format":"d","title":null,"grid":false,"labelFontSize":7,"tickSize":2.5,"labelPadding":1.5,"zindex":1}},"x2":{"datum":28.11},
"y":{"datum":0.773,"axis":{"orient":"left","offset":-102.7,"values":[0.80,0.82,0.84,0.86],"format":".2f","title":null,"grid":false,"labelFontSize":7,"tickSize":2.5,"labelPadding":1.5,"zindex":1}},"y2":{"datum":0.872}}}
]}
],
"resolve":{"scale":{"x":"independent","y":"independent"}}},

{"width":254,"height":187,"title":"(d) τ = 0.2",
"data":{"name":"d"},"transform":[{"fold":["Random","AOCS","Fed-CBS","DELTA","FedPCS"],"as":["s","v"]}],
"mark":{"type":"line","strokeDash":[5.5,2.4],"strokeWidth":1.5,"interpolate":"monotone"},
"encoding":{
"x":{"field":"t","type":"quantitative","scale":{"domain":[-1.45,30.45],"nice":false,"zero":false},"axis":{"values":[0,5,10,15,20,25,30],"format":"d","title":"Iteration t","labelPadding":1,"titleBaseline":"alphabetic","titleY":21.5}},
"y":{"field":"v","type":"quantitative","scale":{"domain":[0.314,2.41],"nice":false,"zero":false},"axis":{"values":[0.5,0.75,1.0,1.25,1.5,1.75,2.0,2.25],"format":".2f","title":"Training Loss"}},
"color":{"field":"s","type":"nominal","scale":{"domain":["Random","AOCS","Fed-CBS","DELTA","FedPCS"],"range":["#559fd9","#f58535","#8dc466","#9392d6","#f5333f"]}}}}
],
"spacing":38,"bounds":"flush"
}
